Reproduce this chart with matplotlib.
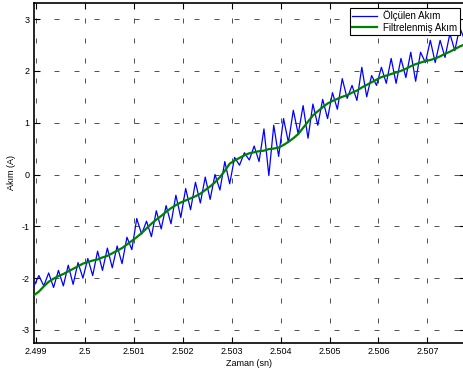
import numpy as np
import matplotlib
matplotlib.use("Agg")
import matplotlib.pyplot as plt

plt.rcParams['font.family'] = ['Liberation Sans', 'DejaVu Sans']
plt.rcParams['lines.scale_dashes'] = False
plt.rcParams['axes.unicode_minus'] = False

t_start = 2.49896
t_step = 0.0001

olculen = [
    -2.15, -1.95, -2.15, -1.90, -2.18, -1.85, -2.15, -1.75, -2.12, -1.70,
    -2.00, -1.62, -1.95, -1.48, -1.85, -1.42, -1.80, -1.38, -1.72, -1.21,
    -1.45, -0.85, -1.15, -0.90, -1.20, -0.70, -1.05, -0.60, -0.95, -0.40,
    -0.83, -0.27, -0.68, -0.15, -0.55, -0.05, -0.48, 0.00, -0.30, 0.25,
    -0.18, 0.33, 0.18, 0.42, 0.28, 0.55, 0.25, 0.88, -0.02, 0.95,
    0.35, 1.08, 0.62, 1.24, 0.78, 1.33, 0.70, 1.36, 0.95, 1.45,
    1.08, 1.58, 1.26, 1.85, 1.47, 1.72, 1.43, 2.07, 1.50, 1.91,
    1.72, 2.07, 1.76, 2.24, 1.76, 2.24, 1.87, 2.36, 1.80, 2.36,
    2.16, 2.59, 2.16, 2.59, 2.26, 2.72, 2.39, 2.84, 2.60,
]

filtrelenmis = [
    -2.33, -2.26, -2.16, -2.07, -2.01, -1.96, -1.92, -1.87, -1.82, -1.77,
    -1.72, -1.69, -1.66, -1.64, -1.60, -1.57, -1.52, -1.47, -1.42, -1.35,
    -1.28, -1.21, -1.13, -1.04, -0.95, -0.87, -0.80, -0.72, -0.65, -0.59,
    -0.54, -0.50, -0.46, -0.42, -0.37, -0.30, -0.23, -0.15, -0.05, 0.07,
    0.21, 0.27, 0.32, 0.37, 0.41, 0.43, 0.45, 0.46, 0.49, 0.50,
    0.52, 0.57, 0.63, 0.70, 0.78, 0.90, 1.02, 1.14, 1.22, 1.30,
    1.37, 1.42, 1.46, 1.50, 1.53, 1.58, 1.62, 1.68, 1.73, 1.78,
    1.83, 1.88, 1.91, 1.94, 1.97, 2.00, 2.04, 2.09, 2.13, 2.16,
    2.19, 2.21, 2.24, 2.28, 2.33, 2.37, 2.42, 2.47, 2.51,
]

x_ticks = [2.499, 2.500, 2.501, 2.502, 2.503, 2.504, 2.505, 2.506, 2.507]
x_tick_labels = ['2.499', '2.5', '2.501', '2.502', '2.503', '2.504', '2.505', '2.506', '2.507']
y_ticks = [-3, -2, -1, 0, 1, 2, 3]

t = t_start + t_step * np.arange(len(olculen))

fig = plt.figure(figsize=(4.63, 3.76), dpi=100)
ax = fig.add_axes([0.0734, 0.088, 0.93, 0.904])

ax.plot(t, olculen, color='#0000ff', lw=0.9, label='Ölçülen Akım', zorder=3)
ax.plot(t, filtrelenmis, color='#008000', lw=1.6, label='Filtrelenmiş Akım', zorder=4)

ax.set_xlim(2.49896, 2.50776)
ax.set_ylim(-3.25, 3.31)
ax.set_xticks(x_ticks)
ax.set_xticklabels(x_tick_labels)
ax.set_yticks(y_ticks)

ax.grid(True, color='#333333', lw=0.6, linestyle=(0, (3.6, 10.8)))
ax.tick_params(direction='in', length=4, width=0.8, labelsize=6.5,
               top=True, right=True, pad=3)
for s in ax.spines.values():
    s.set_linewidth(1.2)

ax.set_xlabel('Zaman (sn)', fontsize=6.5, labelpad=2)
ax.set_ylabel('Akım (A)', fontsize=6.5, labelpad=4)

leg = ax.legend(loc='upper right', fontsize=7, frameon=True, fancybox=False,
                edgecolor='black', framealpha=1, borderpad=0.25,
                handlelength=2.6, handletextpad=0.6, labelspacing=0.15,
                borderaxespad=0.5)
leg.get_frame().set_linewidth(0.8)

fig.savefig('out.png', dpi=100)
